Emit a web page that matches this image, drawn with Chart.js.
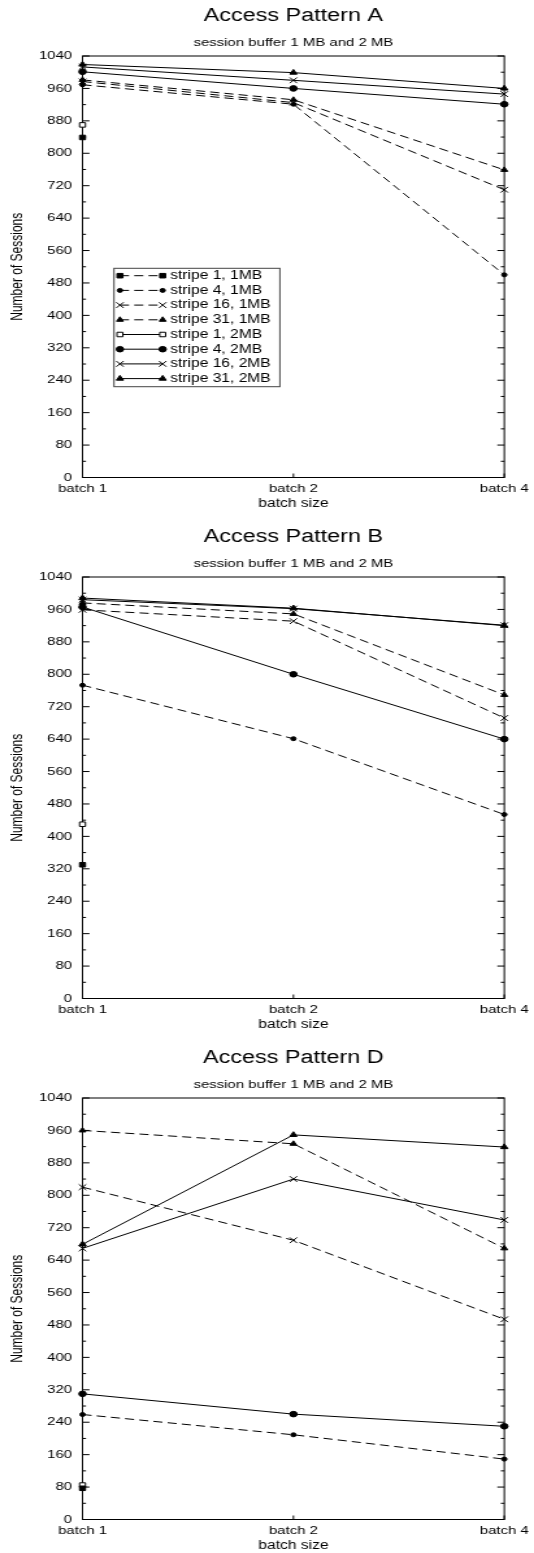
<!DOCTYPE html>
<html>
<head>
<meta charset="utf-8">
<title>Access Patterns</title>
<script src="https://cdn.jsdelivr.net/npm/chart.js@4.4.1/dist/chart.umd.min.js"></script>
<style>
  html, body { margin:0; padding:0; background:#fff; overflow:hidden; }
  /* the original figure is wider than its fonts: draw narrow, stretch sideways */
  .panel { width:411px; height:521px; transform:scaleX(1.2993); transform-origin:0 0; }
  .panel canvas { display:block; }
</style>
</head>
<body>
<div class="panel"><canvas id="chartA" width="411" height="521"></canvas></div>
<div class="panel"><canvas id="chartB" width="411" height="521"></canvas></div>
<div class="panel"><canvas id="chartD" width="411" height="521"></canvas></div>
<script>
// categories / axis
const batches = ['batch 1', 'batch 2', 'batch 4'];
const yMin = 0, yMax = 1040, yStep = 80;
const seriesNames = ['stripe 1, 1MB', 'stripe 4, 1MB', 'stripe 16, 1MB', 'stripe 31, 1MB',
                     'stripe 1, 2MB', 'stripe 4, 2MB', 'stripe 16, 2MB', 'stripe 31, 2MB'];

// Access Pattern A - number of sessions
const a_s1_1mb  = [839, null, null];
const a_s4_1mb  = [969, 921, 500];
const a_s16_1mb = [977, 925, 710];
const a_s31_1mb = [981, 932, 759];
const a_s1_2mb  = [870, null, null];
const a_s4_2mb  = [1001, 960, 921];
const a_s16_2mb = [1013, 980, 946];
const a_s31_2mb = [1019, 999, 960];

// Access Pattern B
const b_s1_1mb  = [330, null, null];
const b_s4_1mb  = [773, 641, 454];
const b_s16_1mb = [959, 931, 692];
const b_s31_1mb = [976, 949, 749];
const b_s1_2mb  = [430, null, null];
const b_s4_2mb  = [966, 800, 640];
const b_s16_2mb = [984, 962, 921];
const b_s31_2mb = [988, 963, 920];

// Access Pattern D
const d_s1_1mb  = [77, null, null];
const d_s4_1mb  = [259, 209, 149];
const d_s16_1mb = [820, 689, 494];
const d_s31_1mb = [960, 927, 669];
const d_s1_2mb  = [85, null, null];
const d_s4_2mb  = [310, 260, 230];
const d_s16_2mb = [669, 840, 739];
const d_s31_2mb = [679, 949, 919];

// look of each series (same order as seriesNames)
const seriesStyle = [
  {dash:[7,4], shape:'rect',     r:3.2, fill:'#000'},
  {dash:[7,4], shape:'circle',   r:2.0, fill:'#000'},
  {dash:[7,4], shape:'crossRot', r:4.0, fill:'#000'},
  {dash:[7,4], shape:'triangle', r:3.0, fill:'#000'},
  {dash:[],    shape:'rect',     r:3.2, fill:'#fff'},
  {dash:[],    shape:'circle',   r:2.8, fill:'#000'},
  {dash:[],    shape:'crossRot', r:4.0, fill:'#000'},
  {dash:[],    shape:'triangle', r:3.2, fill:'#000'},
];

Chart.defaults.font.family = "'Liberation Sans', Arial, sans-serif";
Chart.defaults.color = '#000';

// box frame + inward ticks on left, right and bottom
const frameTicks = {
  id: 'frameTicks',
  beforeDatasetsDraw(chart) {
    const {ctx, chartArea: a, scales: {x, y}} = chart;
    ctx.save();
    ctx.strokeStyle = '#000';
    ctx.lineWidth = 1;
    ctx.strokeRect(a.left, a.top, a.right - a.left, a.bottom - a.top);
    ctx.beginPath();
    for (let v = yMin; v <= yMax; v += yStep / 2) {
      const py = y.getPixelForValue(v);
      const len = v % yStep === 0 ? 5.4 : 2.7;
      ctx.moveTo(a.left, py);  ctx.lineTo(a.left + len, py);
      ctx.moveTo(a.right, py); ctx.lineTo(a.right - len, py);
    }
    batches.forEach((b, i) => {
      const px = x.getPixelForValue(i);
      ctx.moveTo(px, a.bottom); ctx.lineTo(px, a.bottom - 4);
    });
    ctx.stroke();
    ctx.restore();
  }
};

// gnuplot style key: line sample with a marker at both ends
const boxLegend = {
  id: 'boxLegend',
  afterDatasetsDraw(chart) {
    const {ctx, chartArea: a} = chart;
    const x0 = a.left + 24.2, y0 = a.top + 212.3, w = 127.7, h = 118.4;
    ctx.save();
    ctx.fillStyle = '#fff';
    ctx.fillRect(x0, y0, w, h);
    ctx.strokeStyle = '#444';
    ctx.lineWidth = 1;
    ctx.strokeRect(x0, y0, w, h);
    ctx.font = "12px 'Liberation Sans', Arial, sans-serif";
    ctx.textBaseline = 'middle';
    chart.data.datasets.forEach((ds, i) => {
      const ly = y0 + 7.4 + i * 14.7;
      const lx0 = x0 + 4.6, lx1 = x0 + 37.5;
      ctx.strokeStyle = '#000';
      ctx.setLineDash(ds.borderDash);
      ctx.beginPath(); ctx.moveTo(lx0, ly); ctx.lineTo(lx1, ly); ctx.stroke();
      ctx.setLineDash([]);
      if (Chart.helpers && Chart.helpers.drawPoint) {
        ctx.fillStyle = ds.pointBackgroundColor;
        const opt = {pointStyle: ds.pointStyle, radius: ds.pointRadius, borderWidth: 1, rotation: 0};
        Chart.helpers.drawPoint(ctx, opt, lx0, ly);
        Chart.helpers.drawPoint(ctx, opt, lx1, ly);
      }
      ctx.fillStyle = '#000';
      ctx.fillText(ds.label, x0 + 43.3, ly);
    });
    ctx.restore();
  }
};

function makeChart(id, title, series, withKey) {
  return new Chart(document.getElementById(id), {
    type: 'line',
    data: {
      labels: batches,
      datasets: series.map((vals, i) => ({
        label: seriesNames[i],
        data: vals,
        borderColor: '#000',
        borderWidth: 1,
        borderDash: seriesStyle[i].dash,
        pointStyle: seriesStyle[i].shape,
        pointRadius: seriesStyle[i].r,
        pointBorderWidth: 1,
        pointBorderColor: '#000',
        pointBackgroundColor: seriesStyle[i].fill,
        tension: 0,
        fill: false,
        clip: false
      }))
    },
    options: {
      responsive: false,
      animation: false,
      devicePixelRatio: 1,
      events: [],
      layout: { padding: { left: 6, right: 20.4, top: 0, bottom: 10 } },
      plugins: {
        legend: { display: false },
        tooltip: { enabled: false },
        title: {
          display: true, text: title, fullSize: false,
          font: { size: 18, weight: 'normal' },
          padding: { top: 5.6, bottom: 0 }
        },
        subtitle: {
          display: true, text: 'session buffer 1 MB and 2 MB', fullSize: false,
          font: { size: 11.5, weight: 'normal' },
          padding: { top: 9.2, bottom: 5.8 }
        }
      },
      scales: {
        x: {
          type: 'category',
          offset: false,
          grid: { display: false, drawTicks: false },
          border: { display: false },
          ticks: { padding: 4, font: { size: 11.5 }, maxRotation: 0, autoSkip: false },
          title: { display: true, text: 'batch size', font: { size: 12 }, padding: 0 },
          afterFit(scale) { scale.height = 33.5; }
        },
        y: {
          min: yMin, max: yMax,
          grid: { display: false, drawTicks: false },
          border: { display: false },
          ticks: { stepSize: yStep, padding: 8, font: { size: 11.5 }, callback: v => String(v) },
          title: { display: true, text: 'Number of Sessions', font: { size: 12 }, padding: 0 },
          afterFit(scale) { scale.width = 57.5; }
        }
      }
    },
    plugins: withKey ? [frameTicks, boxLegend] : [frameTicks]
  });
}

makeChart('chartA', 'Access Pattern A',
  [a_s1_1mb, a_s4_1mb, a_s16_1mb, a_s31_1mb, a_s1_2mb, a_s4_2mb, a_s16_2mb, a_s31_2mb], true);
makeChart('chartB', 'Access Pattern B',
  [b_s1_1mb, b_s4_1mb, b_s16_1mb, b_s31_1mb, b_s1_2mb, b_s4_2mb, b_s16_2mb, b_s31_2mb], false);
makeChart('chartD', 'Access Pattern D',
  [d_s1_1mb, d_s4_1mb, d_s16_1mb, d_s31_1mb, d_s1_2mb, d_s4_2mb, d_s16_2mb, d_s31_2mb], false);
</script>
</body>
</html>
